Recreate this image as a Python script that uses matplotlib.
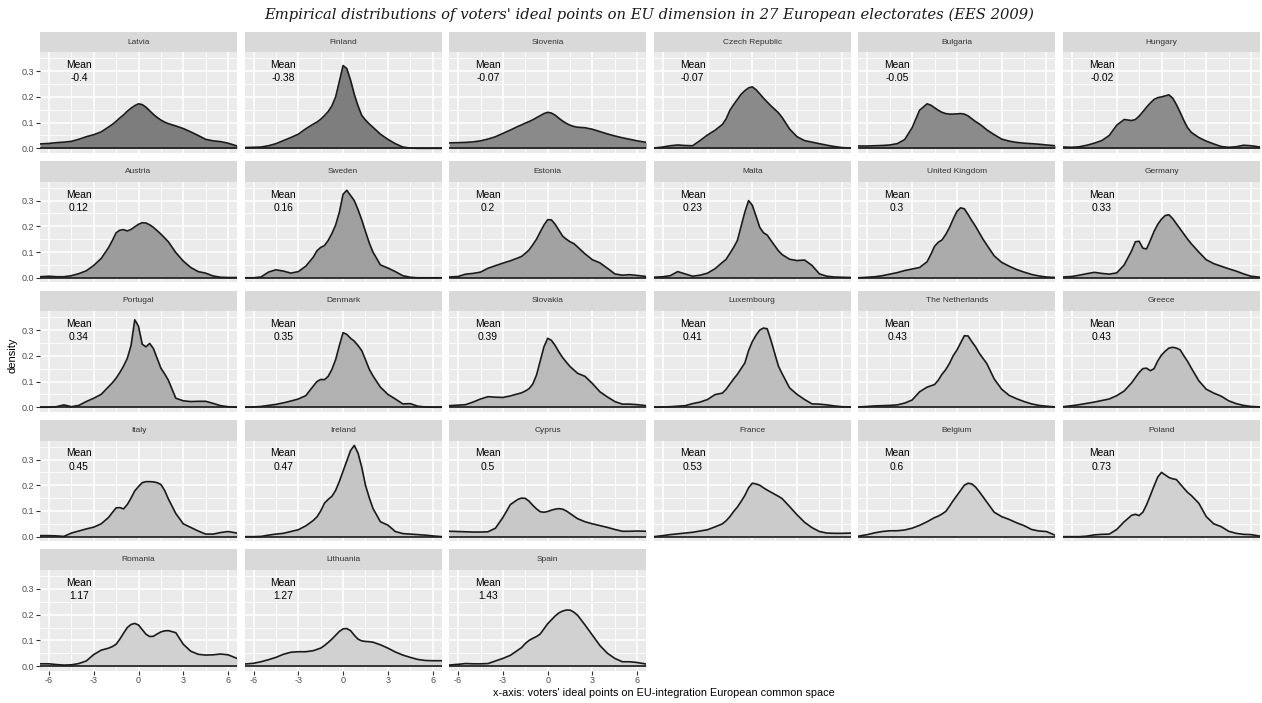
import numpy as np
import matplotlib
matplotlib.use("Agg")
import matplotlib.pyplot as plt

plt.rcParams['font.family'] = ['Liberation Sans', 'DejaVu Sans']

# ---------------- data ----------------
x_grid = [-6.6, -6, -5.5, -5, -4.5, -4, -3.5, -3, -2.5,
          -2, -1.75, -1.5, -1.25, -1, -0.75, -0.5, -0.25,
          0, 0.25, 0.5, 0.75, 1, 1.25, 1.5, 1.75, 2,
          2.5, 3, 3.5, 4, 4.5, 5, 5.5, 6, 6.6]

countries = ["Latvia", "Finland", "Slovenia", "Czech Republic", "Bulgaria", "Hungary",
             "Austria", "Sweden", "Estonia", "Malta", "United Kingdom", "Germany",
             "Portugal", "Denmark", "Slovakia", "Luxembourg", "The Netherlands", "Greece",
             "Italy", "Ireland", "Cyprus", "France", "Belgium", "Poland",
             "Romania", "Lithuania", "Spain"]

means = [-0.4, -0.38, -0.07, -0.07, -0.05, -0.02,
         0.12, 0.16, 0.2, 0.23, 0.3, 0.33,
         0.34, 0.35, 0.39, 0.41, 0.43, 0.43,
         0.45, 0.47, 0.5, 0.53, 0.6, 0.73,
         1.17, 1.27, 1.43]

latvia = [.017, .019, .022, .024, .027, .035, .045, .053, .064,
          .083, .093, .105, .118, .13, .144, .156, .166,
          .173, .17, .16, .146, .132, .12, .11, .102, .096,
          .087, .077, .064, .05, .035, .029, .026, .02, .009]
finland = [.003, .004, .005, .01, .018, .03, .042, .055, .076,
           .094, .102, .113, .127, .143, .165, .2, .26,
           .322, .31, .265, .21, .165, .128, .11, .095, .082,
           .055, .035, .018, .005, .001, 0, 0, 0, 0]
slovenia = [.021, .022, .023, .025, .029, .036, .045, .058, .071,
            .085, .091, .098, .104, .111, .119, .127, .135,
            .14, .137, .129, .117, .106, .097, .09, .085, .082,
            .08, .074, .065, .056, .048, .041, .035, .029, .023]
czech = [.001, .005, .01, .013, .011, .01, .03, .052, .07,
         .093, .115, .148, .17, .19, .21, .224, .235,
         .239, .228, .212, .195, .18, .165, .152, .138, .12,
         .075, .045, .03, .024, .018, .012, .007, .003, .001]
bulgaria = [.009, .009, .01, .011, .013, .018, .034, .08, .148,
            .173, .168, .158, .148, .14, .135, .133, .133,
            .134, .135, .133, .126, .115, .104, .095, .084, .072,
            .053, .036, .028, .023, .02, .018, .016, .013, .01]
hungary = [.005, .004, .006, .012, .02, .03, .05, .09, .112,
           .108, .112, .125, .142, .16, .176, .19, .197,
           .2, .204, .208, .195, .17, .14, .108, .08, .062,
           .042, .028, .017, .007, .004, .006, .012, .01, .005]
austria = [.004, .006, .004, .004, .008, .016, .027, .048, .075,
           .118, .145, .175, .185, .187, .182, .188, .198,
           .208, .214, .213, .206, .196, .183, .17, .155, .14,
           .098, .065, .04, .024, .018, .007, .002, .001, .001]
sweden = [0, 0, .003, .022, .031, .026, .018, .024, .045,
          .08, .105, .118, .125, .145, .172, .205, .255,
          .325, .34, .32, .3, .265, .225, .18, .136, .1,
          .05, .038, .024, .008, .002, 0, 0, 0, 0]
estonia = [.003, .005, .014, .017, .022, .037, .047, .057, .066,
           .077, .083, .095, .108, .128, .15, .178, .205,
           .226, .225, .208, .185, .162, .15, .14, .133, .12,
           .093, .07, .058, .037, .015, .01, .012, .009, .005]
malta = [.002, .004, .008, .024, .015, .006, .01, .018, .035,
         .06, .072, .095, .118, .145, .2, .255, .3,
         .282, .24, .196, .175, .166, .145, .125, .105, .09,
         .072, .067, .069, .048, .015, .006, .003, .002, .001]
uk = [0, .002, .004, .008, .014, .02, .028, .034, .04,
      .062, .09, .122, .138, .147, .168, .195, .228,
      .258, .272, .268, .246, .222, .2, .175, .15, .128,
      .085, .06, .045, .032, .022, .013, .007, .003, .001]
germany = [.003, .005, .01, .016, .021, .017, .014, .019, .05,
           .105, .14, .142, .115, .112, .145, .18, .208,
           .228, .242, .245, .23, .21, .19, .17, .15, .132,
           .1, .07, .055, .045, .035, .026, .015, .006, .002]
portugal = [0, 0, .002, .009, .002, .007, .022, .035, .05,
            .08, .095, .113, .135, .16, .19, .24, .34,
            .315, .245, .235, .248, .228, .19, .152, .13, .105,
            .035, .025, .022, .023, .023, .015, .006, .002, 0]
denmark = [0, .001, .003, .007, .011, .017, .024, .032, .045,
           .082, .1, .108, .107, .12, .147, .185, .24,
           .29, .283, .268, .257, .24, .22, .185, .148, .122,
           .078, .05, .032, .013, .014, .004, .001, 0, 0]
slovakia = [.006, .008, .01, .02, .032, .041, .039, .038, .044,
            .052, .056, .063, .072, .09, .125, .18, .235,
            .268, .26, .24, .215, .193, .175, .158, .145, .132,
            .12, .092, .06, .04, .022, .012, .012, .01, .006]
luxembourg = [0, .001, .002, .004, .006, .014, .02, .03, .049,
              .055, .07, .09, .11, .128, .15, .172, .22,
              .255, .28, .3, .308, .305, .26, .21, .16, .13,
              .075, .05, .03, .013, .012, .009, .005, .002, .001]
netherlands = [.001, .003, .005, .006, .007, .009, .016, .028, .06,
               .078, .083, .088, .105, .128, .146, .17, .2,
               .222, .25, .278, .277, .255, .235, .21, .19, .17,
               .11, .07, .046, .033, .022, .013, .007, .004, .001]
greece = [.002, .006, .01, .015, .02, .026, .032, .045, .063,
          .095, .115, .135, .15, .152, .142, .15, .18,
          .203, .218, .23, .233, .23, .223, .2, .178, .152,
          .103, .07, .055, .043, .025, .014, .007, .003, .001]
italy = [.004, .004, .003, .001, .014, .022, .03, .037, .05,
         .075, .094, .112, .113, .108, .125, .15, .178,
         .195, .21, .214, .214, .213, .21, .203, .18, .147,
         .09, .05, .036, .022, .01, .01, .016, .02, .014]
ireland = [0, 0, .001, .006, .01, .013, .02, .027, .042,
           .063, .077, .1, .13, .145, .157, .18, .215,
           .255, .295, .335, .355, .325, .27, .2, .152, .11,
           .058, .045, .02, .012, .01, .008, .006, .003, 0]
cyprus = [.021, .02, .019, .018, .018, .019, .033, .075, .125,
          .145, .15, .149, .138, .122, .108, .097, .095,
          .098, .103, .107, .109, .107, .1, .09, .08, .07,
          .058, .05, .043, .036, .028, .021, .021, .022, .021]
france = [0, .004, .008, .011, .014, .017, .022, .027, .038,
          .05, .062, .078, .098, .115, .137, .16, .19,
          .208, .205, .2, .19, .181, .173, .165, .157, .148,
          .117, .085, .056, .035, .02, .014, .013, .013, .014]
belgium = [.002, .008, .015, .02, .023, .023, .026, .033, .044,
           .058, .066, .074, .08, .088, .098, .118, .14,
           .16, .18, .2, .208, .205, .193, .175, .155, .135,
           .095, .078, .067, .054, .043, .028, .022, .02, .005]
poland = [0, 0, 0, .002, .007, .009, .01, .028, .058,
          .083, .087, .082, .095, .124, .16, .197, .232,
          .25, .24, .23, .225, .222, .205, .188, .172, .16,
          .13, .078, .05, .039, .021, .013, .009, .008, .002]
romania = [.009, .009, .006, .004, .005, .01, .02, .045, .062,
           .07, .076, .085, .105, .128, .15, .162, .166,
           .16, .142, .124, .115, .116, .125, .133, .137, .138,
           .13, .085, .058, .046, .043, .044, .047, .044, .03]
lithuania = [.008, .011, .017, .025, .034, .046, .054, .056, .056,
             .06, .065, .07, .08, .092, .105, .12, .135,
             .145, .146, .138, .12, .105, .098, .096, .095, .093,
             .083, .07, .055, .043, .034, .026, .022, .021, .021]
spain = [.004, .007, .01, .009, .009, .01, .02, .03, .042,
         .062, .072, .088, .1, .108, .115, .125, .145,
         .165, .18, .195, .207, .214, .218, .218, .21, .198,
         .16, .12, .08, .05, .03, .017, .017, .014, .008]

densities = [latvia, finland, slovenia, czech, bulgaria, hungary,
             austria, sweden, estonia, malta, uk, germany,
             portugal, denmark, slovakia, luxembourg, netherlands, greece,
             italy, ireland, cyprus, france, belgium, poland,
             romania, lithuania, spain]

x_ticks = [-6, -3, 0, 3, 6]
y_ticks = [0.0, 0.1, 0.2, 0.3]
y_tick_labels = ["0.0", "0.1", "0.2", "0.3"]

title = "Empirical distributions of voters' ideal points on EU dimension in 27 European electorates (EES 2009)"
xlabel = "x-axis: voters' ideal points on EU-integration European common space"
ylabel = "density"

# ---------------- layout ----------------
W, H = 1262, 703
fig = plt.figure(figsize=(W / 100, H / 100), dpi=100)
fig.patch.set_facecolor("white")

ncol = 6
nrow = int(np.ceil(len(countries) / ncol))
panel_w = 197.0
panel_h = 100.5
strip_h = 20.7
left0 = 40.0
col_pitch = 204.6
top0 = 52.4
row_pitch = 129.45

x_arr = np.array(x_grid)


def fill_for(m):
    g = np.interp(m, [-0.4, -0.02, 0.12, 0.33, 0.43, 0.6],
                  [0.49, 0.55, 0.61, 0.68, 0.76, 0.82])
    return (g, g, g)


for i, (name, m, dens) in enumerate(zip(countries, means, densities)):
    assert len(dens) == len(x_grid), name
    r, c = divmod(i, ncol)
    L = left0 + c * col_pitch
    T = top0 + r * row_pitch
    ax = fig.add_axes([L / W, 1 - (T + panel_h) / H, panel_w / W, panel_h / H])
    ax.set_facecolor("#EBEBEB")
    for s in ax.spines.values():
        s.set_visible(False)
    ax.set_xlim(-6.6, 6.6)
    ax.set_ylim(-0.0178, 0.373)
    ax.set_xticks(x_ticks)
    ax.set_xticks([-4.5, -1.5, 1.5, 4.5], minor=True)
    ax.set_yticks(y_ticks)
    ax.set_yticks([0.05, 0.15, 0.25, 0.35], minor=True)
    ax.grid(which="major", color="white", lw=1.1)
    ax.grid(which="minor", color="white", lw=0.55)
    ax.set_axisbelow(True)
    ax.tick_params(which="minor", length=0)

    d = np.array(dens)
    ax.fill_between(x_arr, d, 0, color=fill_for(m), lw=0, zorder=2)
    ax.plot(x_arr, d, color="#1A1A1A", lw=1.2, zorder=3)
    ax.plot(x_arr, np.zeros_like(x_arr), color="#1A1A1A", lw=1.2, zorder=3)

    ax.text(-4, 0.298, f"Mean\n{m:g}", ha="center", va="center",
            fontsize=7.4, linespacing=1.4, color="black", zorder=4)

    show_y = (c == 0)
    show_x = (r == nrow - 1)
    ax.tick_params(which="major", axis="y", left=show_y, labelleft=show_y,
                   length=2.6, width=0.8, color="#333333",
                   labelsize=6.5, labelcolor="#4D4D4D", pad=1.5)
    ax.tick_params(which="major", axis="x", bottom=show_x, labelbottom=show_x,
                   length=2.6, width=0.8, color="#333333",
                   labelsize=6.5, labelcolor="#4D4D4D", pad=1.5)
    if show_y:
        ax.set_yticklabels(y_tick_labels)
    if show_x:
        ax.set_xticklabels([f"{t:d}" for t in x_ticks])

    sax = fig.add_axes([L / W, 1 - T / H, panel_w / W, strip_h / H])
    sax.set_facecolor("#D9D9D9")
    for s in sax.spines.values():
        s.set_visible(False)
    sax.set_xticks([])
    sax.set_yticks([])
    sax.text(0.5, 0.5, name, ha="center", va="center", fontsize=6,
             color="#333333", transform=sax.transAxes)

fig.text(649 / W, 1 - 15 / H, title, ha="center", va="center",
         fontsize=10.6, family="DejaVu Serif", style="italic", color="#1A1A1A")
fig.text(664 / W, 1 - 693 / H, xlabel, ha="center", va="center",
         fontsize=7.8, color="black")
fig.text(12 / W, 1 - 355 / H, ylabel, ha="center", va="center",
         fontsize=8, rotation=90, color="black")

fig.savefig("out.png", dpi=100, facecolor="white")
